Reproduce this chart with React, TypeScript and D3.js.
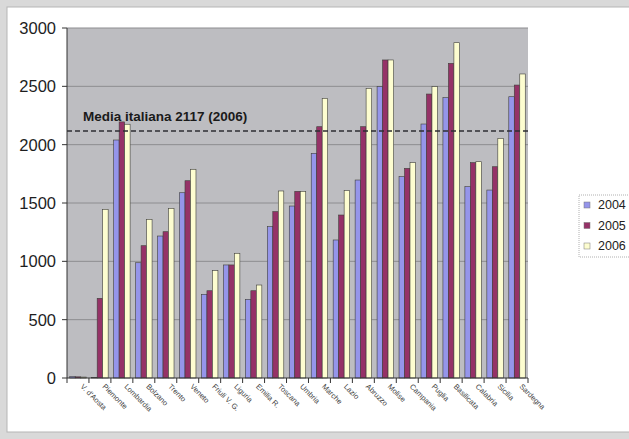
import React from "react";
import * as d3 from "d3";

// Categories along the x axis
const regions = [
  "V. d'Aosta", "Piemonte", "Lombardia", "Bolzano", "Trento", "Veneto",
  "Friuli V. G.", "Liguria", "Emilia R.", "Toscana", "Umbria", "Marche",
  "Lazio", "Abruzzo", "Molise", "Campania", "Puglia", "Basilicata",
  "Calabria", "Sicilia", "Sardegna",
];

const years = ["2004", "2005", "2006"];

const values2004 = [12, 5, 2040, 988, 1217, 1588, 717, 969, 674, 1297, 1474, 1926, 1183, 1697, 2497, 1726, 2177, 2403, 1640, 1611, 2411];
const values2005 = [10, 683, 2195, 1134, 1254, 1691, 748, 969, 748, 1426, 1600, 2154, 1397, 2154, 2726, 1797, 2434, 2697, 1846, 1811, 2511];
const values2006 = [8, 1446, 2175, 1360, 1454, 1789, 920, 1069, 797, 1603, 1600, 2397, 1606, 2483, 2726, 1846, 2497, 2874, 1854, 2054, 2606];

const yTicks = [0, 500, 1000, 1500, 2000, 2500, 3000];

const averageValue = 2117;
const averageLabel = "Media italiana 2117 (2006)";

const seriesColors = ["#9595ea", "#953267", "#fdfdd0"];

const W = 629;
const H = 439;
const plot = { left: 67, right: 528, top: 28, bottom: 378 };

export default function App() {
  const series = [values2004, values2005, values2006];

  const x = d3
    .scaleBand<string>()
    .domain(regions)
    .range([plot.left, plot.right])
    .paddingInner(0.25)
    .paddingOuter(0.125);

  const xInner = d3
    .scaleBand<string>()
    .domain(years)
    .range([0, x.bandwidth()]);

  const y = d3.scaleLinear().domain([0, 3000]).range([plot.bottom, plot.top]);

  const step = x.step();
  const boundaries = d3.range(regions.length + 1).map((i) => plot.left + i * step);

  const font = "Liberation Sans, Arial, sans-serif";

  return (
    <svg
      width={W}
      height={H}
      viewBox={`0 0 ${W} ${H}`}
      style={{ position: "absolute", left: 0, top: 0, display: "block" }}
    >
      {/* page frame */}
      <rect x={0} y={0} width={W} height={H} fill="#d9d9d9" />
      <rect x={7} y={7} width={W} height={H - 14} fill="#ffffff" stroke="#b5b5b5" strokeWidth={1} />

      {/* plot area */}
      <rect
        x={plot.left}
        y={plot.top}
        width={plot.right - plot.left}
        height={plot.bottom - plot.top}
        fill="#bdbdc1"
      />

      {/* gridlines */}
      {yTicks.slice(1).map((t) => (
        <line
          key={`g${t}`}
          x1={plot.left}
          x2={plot.right}
          y1={y(t)}
          y2={y(t)}
          stroke="#8d8d90"
          strokeWidth={1}
        />
      ))}

      {/* bars */}
      {regions.map((r, i) => (
        <g key={r} transform={`translate(${x(r)},0)`}>
          {series.map((s, k) => (
            <rect
              key={years[k]}
              x={xInner(years[k])}
              y={y(s[i])}
              width={xInner.bandwidth()}
              height={plot.bottom - y(s[i])}
              fill={seriesColors[k]}
              stroke="#3f3f3a"
              strokeWidth={0.6}
            />
          ))}
        </g>
      ))}

      {/* national average */}
      <line
        x1={plot.left}
        x2={plot.right}
        y1={y(averageValue)}
        y2={y(averageValue)}
        stroke="#2e2e33"
        strokeWidth={1.3}
        strokeDasharray="5,3"
      />
      <text
        x={83}
        y={y(averageValue) - 10}
        fontFamily={font}
        fontWeight="bold"
        fontSize={13.5}
        fill="#1a1a1a"
      >
        {averageLabel}
      </text>

      {/* axes */}
      <line x1={plot.left} x2={plot.left} y1={plot.top} y2={plot.bottom} stroke="#333" strokeWidth={1} />
      <line x1={plot.left} x2={plot.right} y1={plot.bottom} y2={plot.bottom} stroke="#333" strokeWidth={1} />
      {yTicks.map((t) => (
        <g key={`y${t}`}>
          <line x1={plot.left - 5} x2={plot.left} y1={y(t)} y2={y(t)} stroke="#333" />
          <text
            x={56}
            y={y(t)}
            textAnchor="end"
            dominantBaseline="central"
            fontFamily={font}
            fontSize={16.5}
            fill="#1e1e1e"
          >
            {t}
          </text>
        </g>
      ))}
      {boundaries.map((bx, i) => (
        <line key={`t${i}`} x1={bx} x2={bx} y1={plot.bottom} y2={plot.bottom + 5} stroke="#333" />
      ))}
      {regions.map((r) => {
        const cx = (x(r) ?? 0) + x.bandwidth() / 2;
        return (
          <text
            key={`l${r}`}
            transform={`translate(${cx + 2},${plot.bottom + 9}) rotate(45)`}
            fontFamily={font}
            fontSize={7.5}
            fill="#444"
          >
            {r}
          </text>
        );
      })}

      {/* legend */}
      <rect
        x={579}
        y={195}
        width={60}
        height={62}
        fill="#ffffff"
        stroke="#b0b0b0"
        strokeDasharray="1,1"
      />
      {years.map((yr, k) => {
        const cy = 205 + k * 20.5;
        return (
          <g key={`lg${yr}`}>
            <rect
              x={584}
              y={cy - 3}
              width={6}
              height={6}
              fill={seriesColors[k]}
              stroke="#777"
              strokeWidth={0.5}
            />
            <text
              x={598}
              y={cy}
              dominantBaseline="central"
              fontFamily={font}
              fontSize={12.5}
              fill="#222"
            >
              {yr}
            </text>
          </g>
        );
      })}
    </svg>
  );
}
